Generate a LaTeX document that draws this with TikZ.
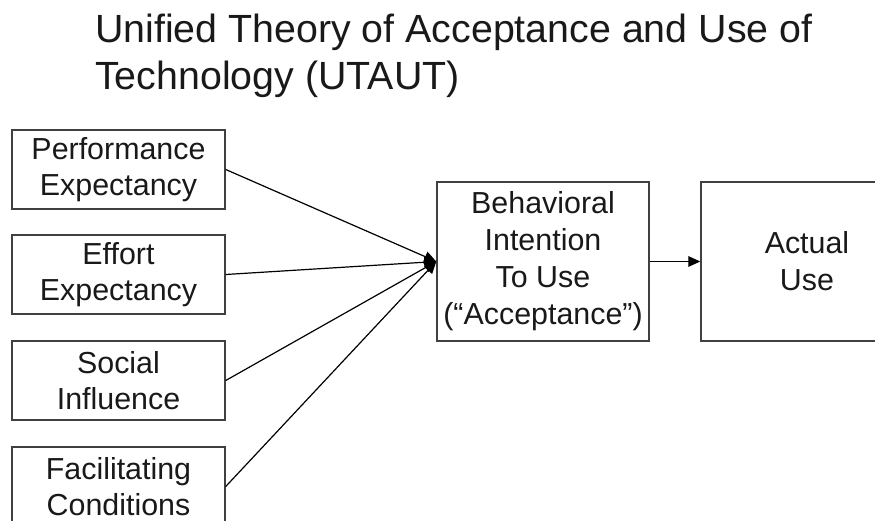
\documentclass[tikz,border=0pt]{standalone}
\usepackage{fontspec}
\setmainfont{Liberation Sans}
\usepackage{tikz}
\usetikzlibrary{positioning,arrows.meta}

\begin{document}
\begin{tikzpicture}[
    x=0.75pt, y=-0.75pt,
    factor/.style={rectangle, draw=black!75, line width=1.1pt, minimum width=159.75pt, minimum height=59.25pt, inner sep=0pt, align=center, text=black!90, font=\fontsize{22.8}{26.5}\selectfont},
    stage/.style={factor, minimum width=159pt, minimum height=119.25pt, font=\fontsize{22.8}{27.75}\selectfont},
    link/.style={draw=black, line width=0.9pt, -{Triangle[length=9pt,width=8pt]}}
]
    \useasboundingbox (0,0) rectangle (875,521);

    % Title
    \node[anchor=base west, inner sep=0pt, align=left, text=black!90, font=\fontsize{29.5}{35}\selectfont] (title) at (95,89.5) {Unified Theory of Acceptance and Use of\\Technology (UTAUT)};

    % Determinants
    \node[factor] (pe) at (118.5,169.5) {Performance\\Expectancy};
    \node[factor] (ee) at (118.5,274.5) {Effort\\Expectancy};
    \node[factor] (si) at (118.5,380.5) {Social\\Influence};
    \node[factor] (fc) at (118.5,486.5) {Facilitating\\Conditions};

    % Intention and use
    \node[stage] (bi) at (543,261.5) {Behavioral\\Intention\\To Use\\(“Acceptance”)};
    \node[stage] (au) at (807,261.5) {Actual\\Use};

    % Links
    \draw[link] (pe.east) -- (bi.west);
    \draw[link] (ee.east) -- (bi.west);
    \draw[link] (si.east) -- (bi.west);
    \draw[link] (fc.east) -- (bi.west);
    \draw[link] (bi.east) -- (au.west);
\end{tikzpicture}
\end{document}
